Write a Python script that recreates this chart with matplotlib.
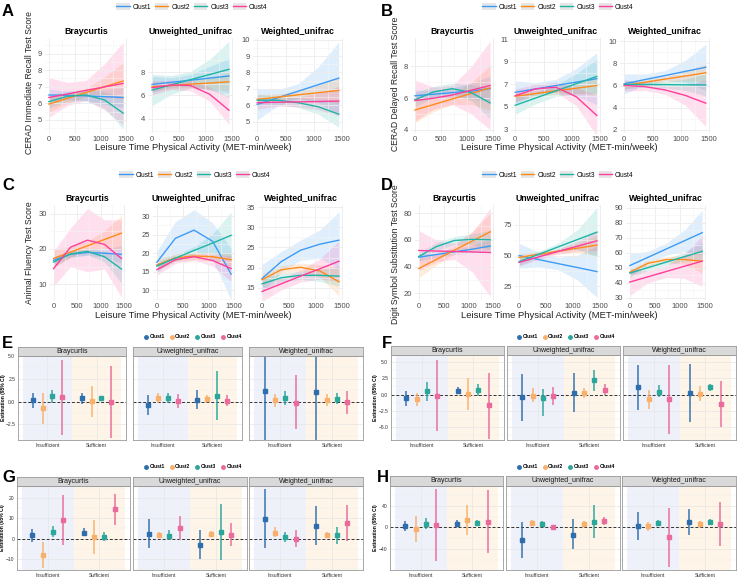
import matplotlib.pyplot as plt
import numpy as np
from matplotlib.lines import Line2D
from matplotlib.patches import Patch
from matplotlib.ticker import MultipleLocator

plt.rcParams['font.family'] = ['Liberation Sans', 'DejaVu Sans']

W, H = 738, 579
fig = plt.figure(figsize=(W / 100, H / 100), dpi=100)

CLUSTERS = ["Clust1", "Clust2", "Clust3", "Clust4"]
FACETS = ["Braycurtis", "Unweighted_unifrac", "Weighted_unifrac"]
GROUPS = ["Insufficient", "Sufficient"]
XS = [0, 360, 720, 1080, 1440]

LINE_COLORS = ["#3D9BF5", "#FF8A1A", "#1DB5A6", "#FF3D9A"]
DOT_COLORS = ["#2F6EAD", "#F9B06B", "#2AA69B", "#EA6A9B"]

# ---- fitted curves (value at XS) and CI half widths ----
a_fit = {
    "Braycurtis": [[6.5, 6.48, 6.45, 6.4, 6.35], [5.95, 6.3, 6.65, 7.0, 7.35],
                   [6.1, 6.42, 6.5, 6.2, 5.4], [6.35, 6.56, 6.78, 6.99, 7.2]],
    "Unweighted_unifrac": [[6.94, 7.12, 7.3, 7.48, 7.66], [6.74, 6.85, 6.96, 7.06, 7.17],
                           [6.46, 6.9, 7.35, 7.79, 8.23], [6.66, 6.9, 6.85, 6.1, 4.74]],
    "Weighted_unifrac": [[6.05, 6.45, 6.85, 7.25, 7.65], [6.35, 6.49, 6.63, 6.76, 6.9],
                         [6.3, 6.3, 6.15, 5.9, 5.45], [6.15, 6.18, 6.2, 6.22, 6.25]],
}
a_hw = {
    "Braycurtis": [[0.35, 0.25, 0.3, 0.45, 0.6], [0.5, 0.3, 0.25, 0.6, 1.1],
                   [0.4, 0.3, 0.35, 0.5, 0.95], [1.2, 0.7, 0.6, 1.4, 2.5]],
    "Unweighted_unifrac": [[0.7, 0.4, 0.5, 1.0, 1.5], [0.4, 0.25, 0.3, 0.5, 0.8],
                           [1.35, 0.8, 0.7, 1.3, 2.4], [0.6, 0.4, 0.45, 0.6, 1.2]],
    "Weighted_unifrac": [[0.95, 0.5, 0.45, 1.1, 2.2], [0.3, 0.2, 0.25, 0.45, 0.8],
                         [0.35, 0.25, 0.3, 0.45, 0.8], [0.4, 0.25, 0.3, 0.5, 0.9]],
}
b_fit = {
    "Braycurtis": [[6.15, 6.25, 6.35, 6.45, 6.6], [5.25, 5.6, 5.95, 6.3, 6.65],
                   [5.9, 6.4, 6.6, 6.35, 5.7], [5.85, 6.0, 6.2, 6.5, 6.8]],
    "Unweighted_unifrac": [[6.3, 6.6, 6.9, 7.2, 7.5], [5.95, 6.19, 6.43, 6.66, 6.9],
                           [5.15, 5.79, 6.43, 7.06, 7.7], [6.0, 6.6, 6.75, 5.9, 4.25]],
    "Weighted_unifrac": [[6.15, 6.53, 6.9, 7.28, 7.65], [6.0, 6.29, 6.58, 6.86, 7.15],
                         [6.1, 6.09, 6.08, 6.06, 6.05], [6.0, 5.9, 5.6, 5.1, 4.4]],
}
b_hw = {
    "Braycurtis": [[0.35, 0.25, 0.3, 0.5, 0.8], [0.8, 0.45, 0.35, 0.7, 1.4],
                   [0.45, 0.35, 0.35, 0.5, 1.0], [1.3, 0.7, 0.6, 1.5, 2.8]],
    "Unweighted_unifrac": [[1.0, 0.55, 0.55, 1.2, 2.3], [0.4, 0.25, 0.3, 0.5, 0.8],
                           [0.8, 0.5, 0.5, 0.9, 1.5], [0.6, 0.4, 0.45, 0.8, 1.8]],
    "Weighted_unifrac": [[0.9, 0.5, 0.45, 1.0, 2.1], [0.3, 0.2, 0.25, 0.45, 0.8],
                         [0.4, 0.25, 0.3, 0.5, 1.0], [0.5, 0.35, 0.4, 0.9, 2.1]],
}
c_fit = {
    "Braycurtis": [[16.8, 18.5, 19.0, 18.8, 18.5], [17.3, 19.1, 20.9, 22.7, 24.5],
                   [16.3, 18.6, 19.3, 17.8, 14.3], [14.4, 20.5, 22.5, 21.3, 17.3]],
    "Unweighted_unifrac": [[17.5, 24.0, 26.2, 23.2, 14.3], [16.8, 18.7, 19.2, 19.0, 18.2],
                           [16.5, 18.6, 20.7, 22.7, 24.8], [15.5, 18.2, 19.0, 18.0, 15.8]],
    "Weighted_unifrac": [[17.3, 21.5, 24.3, 25.8, 26.8], [17.0, 19.5, 20.1, 19.2, 16.5],
                         [16.0, 17.5, 18.1, 18.1, 17.9], [14.1, 16.0, 17.9, 19.7, 21.6]],
}
c_hw = {
    "Braycurtis": [[1.0, 0.8, 0.8, 1.2, 2.5], [2.5, 1.5, 1.3, 2.5, 5.0],
                   [1.5, 1.0, 1.0, 1.5, 4.0], [5.0, 5.5, 9.0, 7.0, 11.0]],
    "Unweighted_unifrac": [[3.0, 4.5, 5.5, 5.0, 7.0], [1.5, 1.0, 1.0, 1.2, 2.0],
                           [1.2, 0.9, 1.0, 2.5, 6.3], [1.5, 1.0, 1.0, 1.5, 3.5]],
    "Weighted_unifrac": [[3.5, 2.5, 2.5, 3.5, 7.0], [1.5, 1.0, 1.0, 1.5, 3.5],
                         [1.5, 1.0, 1.0, 1.5, 2.5], [2.5, 1.5, 1.5, 2.5, 5.0]],
}
d_fit = {
    "Braycurtis": [[47, 49, 51, 53, 55.3], [38.5, 45.4, 52.3, 59.1, 66],
                   [47.5, 55, 59.5, 60.3, 60], [52, 51.6, 51.3, 50.9, 50.5]],
    "Unweighted_unifrac": [[50, 46.8, 43.5, 40.3, 37], [48.5, 51, 53.5, 56, 58.5],
                           [45, 51, 57, 63, 69], [44.5, 48.9, 53.3, 57.6, 62]],
    "Weighted_unifrac": [[51.5, 57, 62.5, 68, 73.5], [47, 53, 55.5, 55.5, 54.5],
                         [46.5, 50.1, 53.8, 57.4, 61], [40.5, 44, 47.5, 51, 54.5]],
}
d_hw = {
    "Braycurtis": [[3, 2, 2, 3, 5], [7, 4, 3, 7, 14], [3, 3, 3, 4, 7], [15, 8, 6, 15, 33]],
    "Unweighted_unifrac": [[10, 6, 5, 10, 21], [3, 2, 2, 4, 8], [3, 2.5, 3, 8, 20], [3, 2, 2, 4, 8]],
    "Weighted_unifrac": [[8, 4, 4, 7, 15], [2, 2, 2, 3, 8], [2.5, 2, 2, 3, 6], [9, 4, 4, 8, 17]],
}

# ---- forest estimates: Insufficient Clust1-4, then Sufficient Clust1-4 ----
e_est = {"Braycurtis": [0.15, -0.7, 0.6, 0.5, 0.4, 0.1, 0.35, 0.0],
         "Unweighted_unifrac": [-0.37, 0.45, 0.35, 0.05, 0.22, 0.3, 0.65, 0.1],
         "Weighted_unifrac": [1.15, 0.18, 0.4, -0.1, 1.1, 0.22, 0.33, -0.05]}
e_lo = {"Braycurtis": [-0.65, -2.4, -0.15, -3.6, -0.25, -1.7, 0.1, -4.0],
        "Unweighted_unifrac": [-1.45, -0.1, -0.15, -0.75, -0.85, -0.05, -2.05, -0.5],
        "Weighted_unifrac": [-6.0, -0.55, -0.33, -3.05, -6.0, -0.5, -0.25, -1.3]}
e_hi = {"Braycurtis": [0.9, 1.0, 1.3, 4.55, 1.0, 1.75, 0.65, 3.95],
        "Unweighted_unifrac": [0.75, 1.0, 0.9, 0.85, 1.3, 0.7, 3.35, 0.75],
        "Weighted_unifrac": [7.0, 0.87, 1.15, 2.9, 7.0, 0.87, 0.9, 1.15]}

f_est = {"Braycurtis": [-0.6, -0.75, 0.5, -0.15, 0.55, 0.15, 0.65, -1.65],
         "Unweighted_unifrac": [-0.45, -0.15, -0.55, -0.25, 0.3, 0.25, 2.2, 0.7],
         "Weighted_unifrac": [1.1, -0.65, 0.45, -0.65, 0.25, 0.15, 1.1, -1.45]}
f_lo = {"Braycurtis": [-1.8, -1.8, -1.0, -5.65, 0.1, -2.3, -0.25, -6.8],
        "Unweighted_unifrac": [-4.1, -1.2, -3.35, -1.6, -2.75, -0.55, 0.5, -0.1],
        "Weighted_unifrac": [-2.4, -2.15, -0.45, -6.0, -4.3, -0.95, 0.5, -5.0]}
f_hi = {"Braycurtis": [0.6, 0.25, 2.0, 5.4, 1.2, 2.5, 1.6, 3.35],
        "Unweighted_unifrac": [3.2, 1.0, 0.85, 1.1, 3.35, 0.95, 3.85, 1.65],
        "Weighted_unifrac": [4.6, 0.75, 1.4, 4.5, 4.75, 1.3, 1.65, 2.1]}

g_est = {"Braycurtis": [1.8, -8.1, 3.3, 9.3, 2.8, 0.7, 0.7, 14.5],
         "Unweighted_unifrac": [2.3, 1.65, 1.3, 5.1, -3.1, 2.1, 3.3, 1.8],
         "Weighted_unifrac": [9.6, 2.5, 0.7, 0.0, 6.4, 1.8, 1.65, 7.6]}
g_lo = {"Braycurtis": [-1.5, -14.7, 1.0, -3.1, 1.3, -7.6, -1.0, 6.9],
        "Unweighted_unifrac": [-4.8, 0.5, -0.7, -0.7, -10.2, 0.8, -10.6, -3.6],
        "Weighted_unifrac": [-4.8, 1.0, -1.6, -4.1, -3.1, 0.7, -2.6, -1.0]}
g_hi = {"Braycurtis": [4.8, -1.5, 6.0, 21.6, 5.0, 9.3, 3.0, 22.1],
        "Unweighted_unifrac": [9.6, 3.1, 4.3, 10.9, 4.0, 3.6, 17.2, 7.6],
        "Weighted_unifrac": [24.3, 5.6, 3.0, 4.0, 16.2, 3.1, 5.8, 16.4]}

h_est = {"Braycurtis": [3, -2.4, 6.6, 4.8, 6.6, 14.5, 7.8, 10.8],
         "Unweighted_unifrac": [-22.3, 7.8, 6.0, 0.6, -13.3, 6.6, 10.8, 11.4],
         "Weighted_unifrac": [2.4, 1.8, 8.4, -17.5, 9.6, 6.6, 9.6, 6.0]}
h_lo = {"Braycurtis": [-6.6, -26.5, -2.4, -61, 2.4, -13, 2.4, -47.6],
        "Unweighted_unifrac": [-55.4, 1.8, 0.6, -4.2, -39.8, 2.4, -19.3, 4.8],
        "Weighted_unifrac": [-23.5, -7.2, 3.6, -71.7, -14.5, 1.8, 3.6, -34.3]}
h_hi = {"Braycurtis": [12, 20.5, 17, 70, 14.5, 41, 14, 68],
        "Unweighted_unifrac": [9.6, 13.9, 12, 4.8, 15.7, 12, 41, 18.7],
        "Weighted_unifrac": [28.9, 10.8, 14.5, 35.5, 33.7, 11.4, 15.7, 45.8]}


def box(x0, y0, x1, y1):
    return fig.add_axes([x0 / W, 1 - y1 / H, (x1 - x0) / W, (y1 - y0) / H])


def txt(x, y, s, **kw):
    fig.text(x / W, 1 - y / H, s, **kw)


def line_panel(fits, hws, xpos, ytop, ybot, ylims, yticks, ylab, ylab_x, ylab_y,
               xlab_x, xlab_y, leg_x, leg_y, letter, let_x, let_y):
    for j, facet in enumerate(FACETS):
        ax = box(xpos[j][0], ytop, xpos[j][1], ybot)
        for k in range(4):
            f = np.array(fits[facet][k], dtype=float)
            h = np.array(hws[facet][k], dtype=float)
            ax.fill_between(XS, f - h, f + h, color=LINE_COLORS[k], alpha=0.16, lw=0)
            ax.plot(XS, f, color=LINE_COLORS[k], lw=1.0)
        ax.set_xlim(-75, 1515)
        ax.set_ylim(*ylims[j])
        ax.set_xticks([0, 500, 1000, 1500])
        ax.xaxis.set_minor_locator(MultipleLocator(250))
        ax.set_yticks(yticks[j])
        ax.yaxis.set_minor_locator(MultipleLocator((yticks[j][1] - yticks[j][0]) / 2))
        ax.grid(which='major', color='#EBEBEB', lw=0.6)
        ax.grid(which='minor', color='#F4F4F4', lw=0.4)
        for s in ax.spines.values():
            s.set_visible(False)
        ax.tick_params(which='both', length=0, labelsize=5.5, labelcolor='#4D4D4D', pad=2)
        ax.set_title(facet, fontsize=6.3, fontweight='bold', pad=3)
    txt(ylab_x, ylab_y, ylab, rotation=90, fontsize=6.2, ha='center',
        va='center', color='#222222')
    txt(xlab_x, xlab_y, "Leisure Time Physical Activity (MET-min/week)", fontsize=6.8,
        ha='center', va='center', color='#222222')
    handles = [(Patch(facecolor='#E6E6E6', edgecolor='none'),
                Line2D([], [], color=c, lw=1.0)) for c in LINE_COLORS]
    fig.legend(handles, CLUSTERS, loc='center', bbox_to_anchor=(leg_x / W, 1 - leg_y / H),
               ncol=4, frameon=False, fontsize=4.7, handlelength=2.0, handleheight=1.2,
               columnspacing=0.6, handletextpad=0.5)
    txt(let_x, let_y, letter, fontsize=12, fontweight='bold', va='center')


OFFS = [-0.3, -0.1, 0.1, 0.3]


def forest_panel(est, lo, hi, xpos, strip_y, plot_y, ylim, yticks, ylab_x,
                 leg_x, leg_y, letter, let_x, let_y):
    for j, facet in enumerate(FACETS):
        x0, x1 = xpos[j]
        ax = box(x0, plot_y[0], x1, plot_y[1])
        ax.axvspan(-0.5, 0.5, color='#EEF0FA', lw=0, zorder=0)
        ax.axvspan(0.5, 1.5, color='#FEF4E7', lw=0, zorder=0)
        ax.axhline(0, color='#333333', ls=(0, (3, 2)), lw=0.7, zorder=2)
        for g in range(2):
            for k in range(4):
                i = g * 4 + k
                x = g + OFFS[k]
                ax.plot([x, x], [lo[facet][i], hi[facet][i]], color=DOT_COLORS[k],
                        lw=1.4, alpha=0.75, solid_capstyle='butt', zorder=3)
                ax.plot(x, est[facet][i], 's', color=DOT_COLORS[k], ms=2.4, zorder=4)
        ax.set_xlim(-0.6, 1.6)
        ax.set_ylim(*ylim)
        ax.set_xticks([0, 1])
        ax.set_xticklabels(GROUPS)
        ax.set_yticks(yticks)
        ax.yaxis.set_minor_locator(MultipleLocator((yticks[1] - yticks[0]) / 2))
        ax.grid(which='major', color='#E6E6E6', lw=0.5)
        ax.grid(which='minor', axis='y', color='#F0F0F0', lw=0.35)
        ax.tick_params(which='both', length=0, labelsize=3.6, labelcolor='#333333', pad=2)
        if j > 0:
            ax.tick_params(axis='y', labelleft=False)
        for s in ax.spines.values():
            s.set_color('#9A9A9A')
            s.set_linewidth(0.6)
        st = box(x0, strip_y[0], x1, strip_y[1])
        st.set_facecolor('#D9D9D9')
        st.set_xticks([])
        st.set_yticks([])
        for s in st.spines.values():
            s.set_color('#9A9A9A')
            s.set_linewidth(0.6)
        st.text(0.5, 0.5, facet, ha='center', va='center', fontsize=5, color='#1A1A1A',
                transform=st.transAxes)
    txt(ylab_x, (plot_y[0] + plot_y[1]) / 2, "Estimation (95% CI)", rotation=90,
        fontsize=3.6, fontweight='bold', ha='center', va='center')
    handles = [Line2D([], [], marker='o', ls='none', color=c, ms=2.5) for c in DOT_COLORS]
    fig.legend(handles, CLUSTERS, loc='center', bbox_to_anchor=(leg_x / W, 1 - leg_y / H),
               ncol=4, frameon=False, handlelength=0.8,
               columnspacing=1.0, handletextpad=0.3, prop={'weight': 'bold', 'size': 3.6})
    txt(let_x, let_y, letter, fontsize=12, fontweight='bold', va='center')


line_panel(a_fit, a_hw, [(45, 127), (148, 233), (253, 343)], 38, 133,
           [(4.2, 9.95), (2.8, 10.9), (4.3, 10.1)],
           [[5, 6, 7, 8, 9], [4, 6, 8], [5, 6, 7, 8, 9, 10]],
           "CERAD Immediate Recall Test Score", 30, 82, 193, 147, 192, 7, "A", 2, 12)
line_panel(b_fit, b_hw, [(411, 494), (511, 601), (620, 710)], 38, 133,
           [(3.8, 9.8), (2.7, 11.1), (1.7, 10.3)],
           [[4, 6, 8], [3, 5, 7, 9, 11], [2, 4, 6, 8, 10]],
           "CERAD Delayed Recall Test Score", 396, 84, 559, 147, 558, 7, "B", 381, 12)
line_panel(c_fit, c_hw, [(50, 125), (153, 235), (258, 343)], 205, 300,
           [(5.5, 32.5), (7.3, 33.0), (12.0, 35.5)],
           [[10, 20, 30], [10, 15, 20, 25, 30], [15, 20, 25, 30, 35]],
           "Animal Fluency Test Score", 30, 253, 193, 315, 195, 175, "C", 2, 185)
line_panel(d_fit, d_hw, [(415, 494), (515, 601), (626, 706)], 205, 300,
           [(15, 86), (14, 91), (28.5, 92)],
           [[20, 40, 60, 80], [25, 50, 75], [30, 40, 50, 60, 70, 80, 90]],
           "Digit Symbol Substitution Test Score", 396, 254, 559, 315, 558, 175, "D", 381, 185)

forest_panel(e_est, e_lo, e_hi, [(18, 126), (133, 242), (249, 363)], (347, 356), (356, 440),
             (-4.2, 5.0), [-2.5, 0.0, 2.5, 5.0], 4, 193, 337, "E", 2, 343)
forest_panel(f_est, f_lo, f_hi, [(391, 504), (507, 620), (623, 736)], (346, 355), (355, 440),
             (-7.0, 6.1), [-5.0, -2.5, 0.0, 2.5, 5.0], 376, 566, 337, "F", 382, 343)
forest_panel(g_est, g_lo, g_hi, [(17, 130), (133, 247), (249, 363)], (477, 486), (486, 570),
             (-15.5, 25.9), [-10, 0, 10, 20], 3, 193, 467, "G", 2, 477)
forest_panel(h_est, h_lo, h_hi, [(390, 503), (506, 620), (622, 736)], (476, 486), (486, 570),
             (-78, 76), [-40, 0, 40], 376, 566, 467, "H", 377, 477)

fig.savefig("out.png", dpi=100)
